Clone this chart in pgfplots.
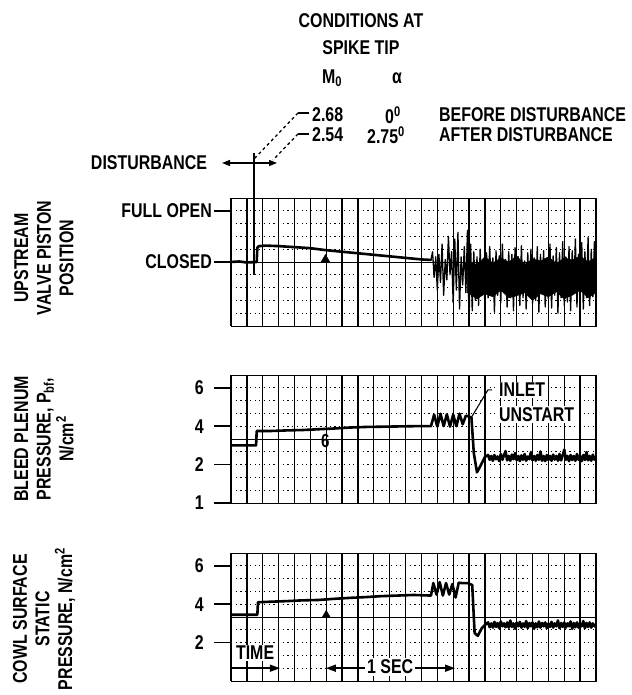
\documentclass[border=0pt]{standalone}
\usepackage{fontspec}
\setmainfont{Liberation Sans}[FakeStretch=0.8]
\usepackage{pgfplots}
\pgfplotsset{compat=1.18}
\usetikzlibrary{arrows.meta}

\tikzset{trace/.style={black, line width=2.6bp, line join=round, line cap=round}}
\pgfplotsset{
 panel/.style={
  anchor=south west, scale only axis, width=365bp, height=128bp,
  xmin=0, xmax=23, xtick={0,1,...,23}, xticklabels={}, xtick style={draw=none},
  xmajorgrids, major x grid style={black, line width=1.3bp},
  axis line style={black, line width=0.9bp},
  ytick pos=left, tick align=outside, major tick length=17bp, minor tick length=0pt,
  ytick style={black, line width=1.8bp},
  ymajorgrids, yminorgrids,
  major y grid style={black, line width=0.9bp, dash pattern=on 1.2bp off 3.5bp},
  minor y grid style={black, line width=0.9bp, dash pattern=on 1.2bp off 3.5bp},
  yticklabel style={font=\fontsize{20}{20}\selectfont\bfseries, inner sep=2bp},
 },
 press/.style={
  y coord trafo/.code={\pgfmathparse{##1<2 ? 3*##1-3 : 1.5*##1}},
  y coord inv trafo/.code={\pgfmathparse{##1<3 ? ##1/3+1 : ##1/1.5}},
  ymin=1, ymax=6.6667,
  minor ytick={1.3333,1.6667,2.6667,3.3333,4.6667,5.3333,6.6667},
  yticklabel style={xshift=-8bp},
 },
}

\begin{document}
\begin{tikzpicture}[x=1bp,y=1bp, font=\fontsize{20}{22.7}\selectfont\bfseries]
\path[use as bounding box] (0,0) rectangle (632,695);

% ---------------- Panel 1: valve position ----------------
\begin{axis}[panel, at={(231bp,369bp)},
  ymin=-1.25, ymax=1.25, ytick={0,1}, yticklabels={CLOSED,FULL OPEN},
  minor ytick={-1,-0.75,-0.5,-0.25,0.25,0.5,0.75,1.25}]
\addplot[black, line width=0.9bp] coordinates {(0,0) (23,0)};
\addplot[trace] coordinates {
(0,0.0) (0.5,0.01) (1.0,-0.01) (1.62,0.0) (1.66,0.28) (1.75,0.31) (2.2,0.32) (3,0.31)
(4,0.29) (5,0.27) (5.5,0.25) (6,0.23) (7,0.2) (8,0.17) (9,0.14) (10,0.11) (11,0.08)
(12,0.05) (12.6,0.04)};
% dense core of the oscillation
\addplot[black, fill=black, line width=0.5bp] coordinates {
(14.9,0.02) (15.5,-0.05) (16.0,0.10) (16.5,-0.02) (17.0,0.08) (17.5,0.00) (18.0,0.12)
(18.5,-0.05) (19.0,0.06) (19.5,0.02) (20.0,0.10) (20.5,-0.03) (21.0,0.08) (21.5,0.04)
(22.0,0.12) (22.5,0.00) (23.0,0.10)
(23.0,-0.60) (22.5,-0.70) (22.0,-0.55) (21.5,-0.65) (21.0,-0.72) (20.5,-0.58) (20.0,-0.68)
(19.5,-0.62) (19.0,-0.75) (18.5,-0.60) (18.0,-0.66) (17.5,-0.70) (17.0,-0.55) (16.5,-0.68)
(16.0,-0.62) (15.5,-0.72) (14.9,-0.60)} -- cycle;
\addplot[black, line width=1.3bp, line join=round] coordinates {
(12.6,0.04) (12.7,0.20) (12.8,-0.30) (12.9,0.10) (13.0,-0.55) (13.1,0.15) (13.2,-0.40)
(13.3,0.35) (13.4,-0.65) (13.5,0.05) (13.6,-0.35) (13.7,0.50) (13.8,-0.25) (13.9,0.20)
(14.0,-0.80) (14.1,0.45) (14.2,-0.55) (14.3,0.58) (14.4,-0.92) (14.5,0.10) (14.6,-0.45)
(14.7,0.30) (14.8,-0.60) (14.9,0.62) (15.0,-1.17) (15.1,0.35) (15.2,-0.95) (15.3,0.20)
(15.4,-0.75) (15.5,0.10) (15.6,-0.85) (15.7,0.25) (15.8,-0.60) (15.9,0.05) (16.0,-0.90)
(16.1,0.18) (16.2,-0.70) (16.3,0.30) (16.4,-0.55) (16.5,0.08) (16.6,-0.98) (16.7,0.22)
(16.8,-0.65) (16.9,0.12) (17.0,-0.80) (17.1,0.35) (17.2,-0.60) (17.3,0.05) (17.4,-0.88)
(17.5,0.20) (17.6,-0.70) (17.7,0.15) (17.8,-0.95) (17.9,0.28) (18.0,-0.62) (18.1,0.10)
(18.2,-0.85) (18.3,0.32) (18.4,-0.70) (18.5,0.02) (18.6,-0.92) (18.7,0.18) (18.8,-0.66)
(18.9,0.25) (19.0,-0.82) (19.1,0.08) (19.2,-0.75) (19.3,0.30) (19.4,-0.98) (19.5,0.15)
(19.6,-0.60) (19.7,0.22) (19.8,-0.88) (19.9,0.05) (20.0,-0.72) (20.1,0.35) (20.2,-0.90)
(20.3,0.12) (20.4,-0.65) (20.5,0.28) (20.6,-1.00) (20.7,0.18) (20.8,-0.70) (20.9,0.40)
(21.0,-0.85) (21.1,0.10) (21.2,-0.78) (21.3,0.30) (21.4,-0.95) (21.5,0.22) (21.6,-0.62)
(21.7,0.45) (21.8,-0.88) (21.9,0.15) (22.0,-0.75) (22.1,0.38) (22.2,-0.92) (22.3,0.20)
(22.4,-0.70) (22.5,0.48) (22.6,-0.85) (22.7,0.25) (22.8,-0.68) (22.9,0.40) (23.0,-0.30)};
\addplot[only marks, mark=triangle*, mark size=5bp, black] coordinates {(5.95,0.05)};
\end{axis}

% ---------------- Panel 2: bleed plenum pressure ----------------
\begin{axis}[panel, press, at={(231bp,192bp)}, ytick={1,2,4,6}, yticklabels={1,2,4,6}]
\addplot[black, line width=0.9bp] coordinates {(0,3.3333) (23,3.3333)};
\addplot[trace] coordinates {
(0,3.0) (1.0,3.0) (1.58,3.0) (1.62,3.75) (2.5,3.75) (3.5,3.78) (4.5,3.8) (5.5,3.84)
(6.5,3.88) (7.5,3.93) (8.5,3.96) (10,3.98) (11.5,4.0) (12.6,4.0)
(12.8,4.6) (13.0,3.98) (13.2,4.65) (13.4,4.0) (13.6,4.62) (13.8,3.98) (14.0,4.6)
(14.2,4.0) (14.4,4.65) (14.6,4.1) (14.8,4.55) (15.0,4.5) (15.15,4.45)
(15.3,2.6) (15.5,1.8) (15.7,1.95) (16.0,2.4)
(16.2,2.50) (16.3,2.25) (16.4,2.45) (16.5,2.20) (16.6,2.50) (16.7,2.28) (16.8,2.42)
(16.9,2.18) (17.0,2.55) (17.1,2.25) (17.2,2.48) (17.3,2.70) (17.4,2.22) (17.5,2.45)
(17.6,2.20) (17.7,2.52) (17.8,2.28) (17.9,2.60) (18.0,2.22) (18.1,2.45) (18.2,2.18)
(18.3,2.48) (18.4,2.25) (18.5,2.55) (18.6,2.20) (18.7,2.42) (18.8,2.28) (18.9,2.65)
(19.0,2.22) (19.1,2.45) (19.2,2.20) (19.3,2.50) (19.4,2.25) (19.5,2.68) (19.6,2.20)
(19.7,2.45) (19.8,2.18) (19.9,2.50) (20.0,2.24) (20.1,2.45) (20.2,2.20) (20.3,2.52)
(20.4,2.26) (20.5,2.45) (20.6,2.20) (20.7,2.55) (20.8,2.22) (20.9,2.48) (21.0,2.78)
(21.1,2.25) (21.2,2.45) (21.3,2.18) (21.4,2.50) (21.5,2.24) (21.6,2.45) (21.7,2.20)
(21.8,2.55) (21.9,2.25) (22.0,2.45) (22.1,2.18) (22.2,2.50) (22.3,2.24) (22.4,2.65)
(22.5,2.22) (22.6,2.45) (22.7,2.20) (22.8,2.52) (22.9,2.26) (23.0,2.40)};
\addplot[only marks, mark=text, text mark={\fontsize{19}{19}\selectfont\bfseries 6}] coordinates {(5.95,3.25)};
\addplot[black, line width=1.1bp] coordinates {(15.17,4.49) (16.19,5.89) (16.45,5.89)};
\node[anchor=west, fill=white, inner sep=1.5bp] at (rel axis cs:0.73,0.883) {INLET};
\node[anchor=west, fill=white, inner sep=1.5bp] at (rel axis cs:0.73,0.69) {UNSTART};
\end{axis}

% ---------------- Panel 3: cowl surface static pressure ----------------
\begin{axis}[panel, press, at={(231bp,14bp)}, ytick={2,4,6}, yticklabels={2,4,6},
  extra y ticks={1}, extra y tick labels={}, extra y tick style={major tick length=0pt}]
\addplot[black, line width=0.9bp] coordinates {(0,3.3333) (23,3.3333)};
\addplot[trace] coordinates {
(0,3.45) (1.0,3.45) (1.66,3.45) (1.7,4.1) (2.5,4.13) (3.5,4.16) (4.5,4.2) (5.5,4.22)
(6.5,4.28) (7.5,4.33) (8.5,4.37) (9.5,4.42) (10.5,4.45) (11.5,4.48) (12.6,4.45)
(12.75,5.1) (12.95,4.5) (13.15,5.15) (13.35,4.45) (13.55,5.1) (13.75,4.5) (13.95,5.05)
(14.15,4.35) (14.35,5.12) (14.55,5.1) (14.9,5.1) (15.2,5.0) (15.35,2.5) (15.55,2.35)
(15.8,2.75) (16.1,3.0)
(16.2,3.05) (16.3,2.80) (16.4,3.00) (16.5,2.78) (16.6,3.08) (16.7,2.82) (16.8,3.02)
(16.9,2.75) (17.0,3.10) (17.1,2.85) (17.2,3.00) (17.3,2.80) (17.4,3.05) (17.5,2.78)
(17.6,3.15) (17.7,2.82) (17.8,3.00) (17.9,2.72) (18.0,3.05) (18.1,2.85) (18.2,3.08)
(18.3,2.78) (18.4,3.00) (18.5,2.82) (18.6,3.12) (18.7,2.75) (18.8,3.02) (18.9,2.85)
(19.0,3.05) (19.1,2.72) (19.2,3.00) (19.3,2.80) (19.4,3.10) (19.5,2.78) (19.6,3.02)
(19.7,2.85) (19.8,3.05) (19.9,2.75) (20.0,3.00) (20.1,2.82) (20.2,3.08) (20.3,2.78)
(20.4,3.00) (20.5,2.85) (20.6,3.15) (20.7,2.75) (20.8,3.02) (20.9,2.82) (21.0,3.05)
(21.1,2.78) (21.2,3.00) (21.3,2.85) (21.4,3.10) (21.5,2.72) (21.6,3.02) (21.7,2.80)
(21.8,3.05) (21.9,2.78) (22.0,3.00) (22.1,2.85) (22.2,3.12) (22.3,2.75) (22.4,3.02)
(22.5,2.82) (22.6,3.05) (22.7,2.78) (22.8,3.00) (22.9,2.85) (23.0,2.95)};
\addplot[only marks, mark=triangle*, mark size=4.5bp, black] coordinates {(6.0,3.45)};
\node[fill=white, inner sep=1bp] at (rel axis cs:0.066,0.219) {TIME};
\draw[line width=1.4bp, -{Triangle[length=10bp,width=7bp]}] (rel axis cs:0,0.10) -- (rel axis cs:0.134,0.10);
\draw[line width=1.4bp, {Triangle[length=10bp,width=7bp]}-{Triangle[length=10bp,width=7bp]}] (rel axis cs:0.26,0.10) -- (rel axis cs:0.614,0.10);
\node[fill=white, inner sep=2bp] at (rel axis cs:0.436,0.11) {1 SEC};
\end{axis}

% ---------------- Left labels ----------------
\node[rotate=90, align=center] at (44,437) {UPSTREAM\\VALVE PISTON\\POSITION};
\node[rotate=90, align=center] at (44,256) {BLEED PLENUM\\PRESSURE, P\textsubscript{bf},\\N/cm\textsuperscript{2}};
\node[rotate=90, align=center] at (44,76) {COWL SURFACE\\STATIC\\PRESSURE, N/cm\textsuperscript{2}};

% ---------------- Top annotations ----------------
\node at (361,674) {CONDITIONS AT};
\node at (361,647) {SPIKE TIP};
\node at (332,617) {M\textsubscript{0}};
\node at (397,617) {α};
\node[anchor=west, inner sep=0pt] at (312,580) {2.68};
\node[anchor=west, inner sep=0pt] at (385,580) {0\textsuperscript{0}};
\node[anchor=west, inner sep=0pt] at (439,580) {BEFORE DISTURBANCE};
\node[anchor=west, inner sep=0pt] at (312,560) {2.54};
\node[anchor=west, inner sep=0pt] at (367,560) {2.75\textsuperscript{0}};
\node[anchor=west, inner sep=0pt] at (439,560) {AFTER DISTURBANCE};
\draw[line width=1.3bp] (309,582) -- (298,582);
\draw[line width=1.3bp, dashed] (298,582) -- (254,536);
\draw[line width=1.3bp] (309,561) -- (298,561);
\draw[line width=1.3bp, dashed] (298,561) -- (273,535);
\node at (149,532) {DISTURBANCE};
\draw[line width=1.4bp, -{Triangle[length=8bp,width=6bp]}] (254,532) -- (222,532);
\draw[line width=1.4bp, -{Triangle[length=8bp,width=6bp]}] (254,532) -- (277,532);
\draw[line width=1.3bp] (254,542) -- (254,420);
\end{tikzpicture}
\end{document}
